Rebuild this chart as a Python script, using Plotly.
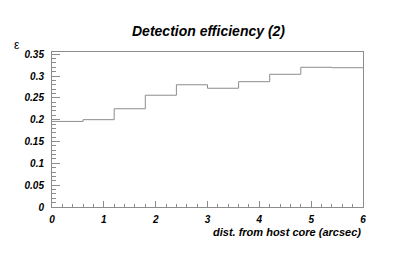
import plotly.graph_objects as go

bin_edges = [0.0, 0.6, 1.2, 1.8, 2.4, 3.0, 3.6, 4.2, 4.8, 5.4, 6.0]
efficiency = [0.196, 0.200, 0.225, 0.256, 0.280, 0.272, 0.287, 0.304, 0.320, 0.319]
x_ticks = [0, 1, 2, 3, 4, 5, 6]
y_ticks = [0, 0.05, 0.1, 0.15, 0.2, 0.25, 0.3, 0.35]
y_tick_labels = ["0", "0.05", "0.1", "0.15", "0.2", "0.25", "0.3", "0.35"]

FONT = "Liberation Sans, Arial, Helvetica, sans-serif"
GRAY = "#8c8c8c"

# page has an 8px body margin; compensate so the plot lands where the reference has it
OFF = 8
W, H = 415 - OFF, 260 - OFF
L, R, T, B = 52 - OFF, 52, 52 - OFF, 53
PW, PH = W - L - R, H - T - B


def px_to_paper_x(px):
    return (px - OFF - L) / PW


def px_to_paper_y(py):
    return (H - B - (py - OFF)) / PH


fig = go.Figure()
fig.add_trace(go.Scatter(
    x=bin_edges,
    y=efficiency + [efficiency[-1]],
    mode="lines",
    line=dict(shape="hv", color=GRAY, width=1),
    hoverinfo="skip",
    showlegend=False,
))

tickfont = dict(family=FONT, size=10, color="black", weight="bold", style="italic")

fig.update_layout(
    width=W, height=H,
    margin=dict(l=L, r=R, t=T, b=B, pad=0, autoexpand=False),
    paper_bgcolor="white", plot_bgcolor="white",
    xaxis=dict(
        range=[0, 6], tickvals=x_ticks, ticktext=[str(t) for t in x_ticks],
        showgrid=False, zeroline=False, automargin=False,
        showline=True, linecolor=GRAY, linewidth=1, mirror=True,
        ticks="inside", ticklen=6, tickcolor=GRAY, tickwidth=1,
        minor=dict(dtick=0.2, ticks="inside", ticklen=3, tickcolor=GRAY, tickwidth=1, showgrid=False),
        tickfont=tickfont, ticklabelstandoff=3,
    ),
    yaxis=dict(
        range=[0, 0.355], tickvals=y_ticks, ticktext=y_tick_labels,
        showgrid=False, zeroline=False, automargin=False,
        showline=True, linecolor=GRAY, linewidth=1, mirror=True,
        ticks="inside", ticklen=8, tickcolor=GRAY, tickwidth=1,
        minor=dict(dtick=0.01, ticks="inside", ticklen=4, tickcolor=GRAY, tickwidth=1, showgrid=False),
        tickfont=tickfont, ticklabelstandoff=5,
    ),
    annotations=[
        dict(text="<b><i>Detection efficiency (2)</i></b>",
             xref="paper", yref="paper", x=px_to_paper_x(208), y=px_to_paper_y(31),
             xanchor="center", yanchor="middle", showarrow=False,
             font=dict(family=FONT, size=14, color="black")),
        dict(text="<b><i>dist. from host core (arcsec)</i></b>",
             xref="paper", yref="paper", x=px_to_paper_x(363), y=px_to_paper_y(232),
             xanchor="right", yanchor="middle", showarrow=False,
             font=dict(family=FONT, size=11, color="black")),
        dict(text="ε",
             xref="paper", yref="paper", x=px_to_paper_x(17), y=px_to_paper_y(45),
             xanchor="center", yanchor="middle", showarrow=False,
             font=dict(family=FONT, size=12, color="black")),
    ],
)

fig.write_html("out.html")
